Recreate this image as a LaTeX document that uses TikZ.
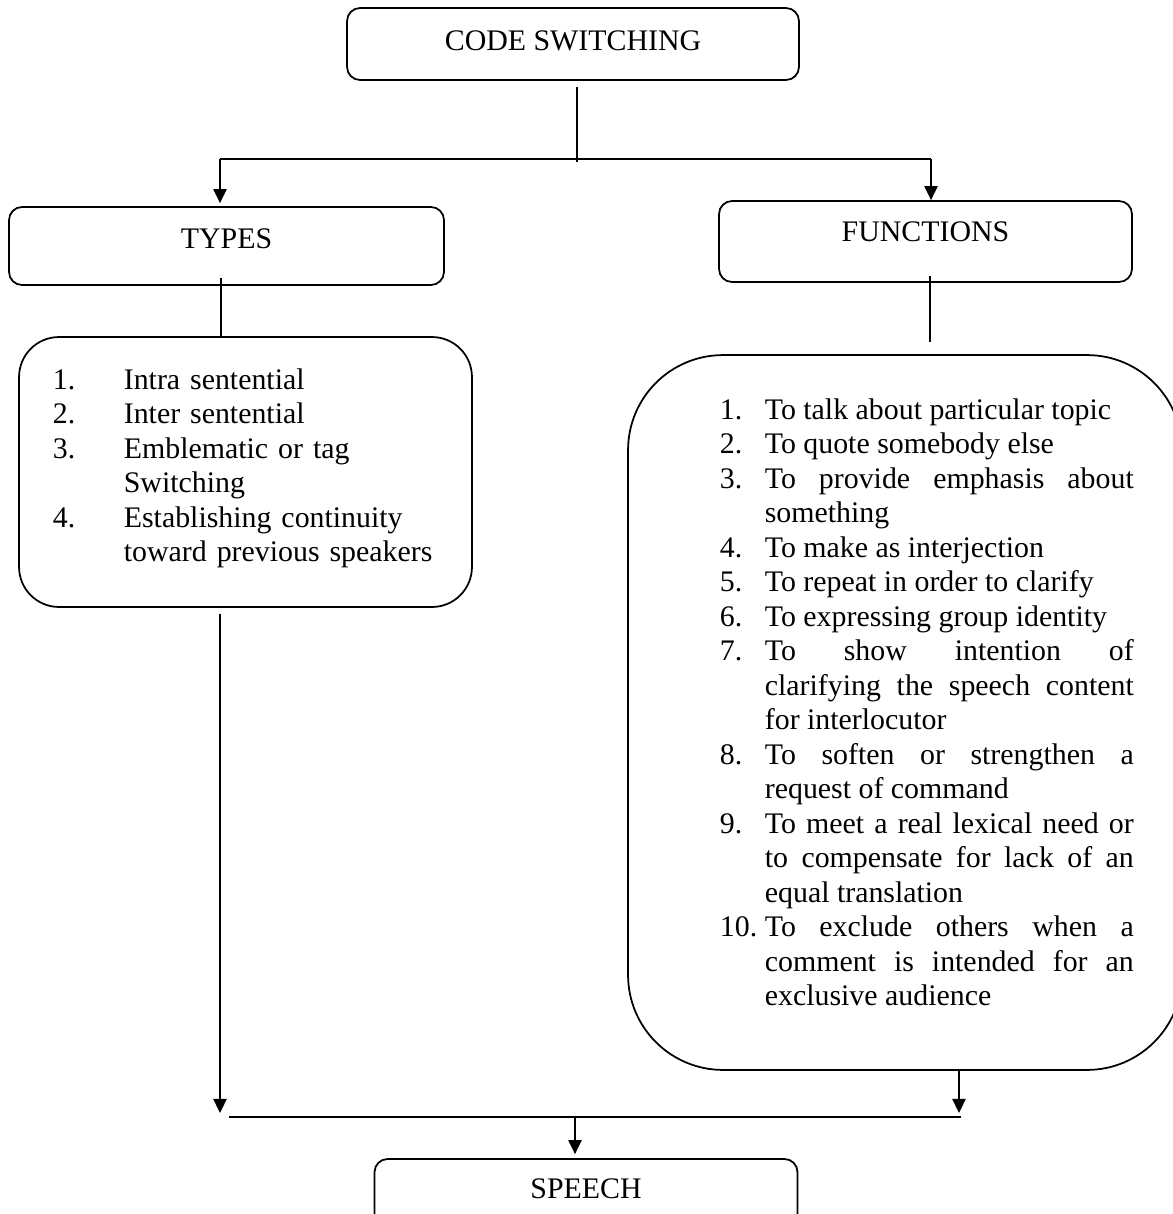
\documentclass[tikz,border=0pt]{standalone}
\usepackage{fontspec}
\setmainfont{Liberation Serif}
\usetikzlibrary{arrows.meta}
\newcommand\myitem[3]{\par\noindent\hangindent=#1\hangafter=1\makebox[#1][l]{#2}#3\par}
\begin{document}
\begin{tikzpicture}[x=0.02cm, y=-0.02cm, line width=1pt,
  font=\fontsize{17}{19.63}\selectfont,
  titlebox/.style={draw, rounded corners=0.26cm, inner sep=0pt, text height=11.3pt},
  listbox/.style={draw, inner sep=0pt},
  listtext/.style={inner sep=0pt, anchor=base west},
  arr/.style={-{Triangle[length=8pt,width=7.5pt]}}]
\useasboundingbox (0,0) rectangle (1173,1214);

% title boxes
\node[titlebox, minimum width=9.04cm, minimum height=1.44cm, text depth=3.5pt] (cs) at (573,44) {CODE SWITCHING};
\node[titlebox, minimum width=8.7cm, minimum height=1.56cm, text depth=7.9pt] (types) at (226.5,246) {TYPES};
\node[titlebox, minimum width=8.26cm, minimum height=1.62cm, text depth=10.8pt] (func) at (925.5,241.5) {FUNCTIONS};
\node[titlebox, minimum width=8.46cm, minimum height=1.56cm, text depth=10.2pt] (speech) at (586,1198) {SPEECH};

% list boxes
\node[listbox, rounded corners=0.8cm, minimum width=9.06cm, minimum height=5.4cm] (tlist) at (245.5,472) {};
\node[listbox, rounded corners=1.9cm, minimum width=11.08cm, minimum height=14.3cm] (flist) at (905,712.5) {};

% list texts
\node[listtext, text width=8.4cm, align=left] (ttext) at (52,355) {%
\hyphenpenalty=10000\exhyphenpenalty=10000%
\myitem{1.42cm}{1.}{Intra sentential}%
\myitem{1.42cm}{2.}{Inter sentential}%
\myitem{1.42cm}{3.}{Emblematic or tag\newline Switching}%
\myitem{1.42cm}{4.}{Establishing continuity\newline toward previous speakers}};

\node[listtext, text width=8.28cm, align=justify] (ftext) at (719,385) {%
\hyphenpenalty=10000\exhyphenpenalty=10000\tolerance=10000%
\myitem{0.9cm}{1.}{To talk about particular topic}%
\myitem{0.9cm}{2.}{To quote somebody else}%
\myitem{0.9cm}{3.}{To provide emphasis about\linebreak something}%
\myitem{0.9cm}{4.}{To make as interjection}%
\myitem{0.9cm}{5.}{To repeat in order to clarify}%
\myitem{0.9cm}{6.}{To expressing group identity}%
\myitem{0.9cm}{7.}{To show intention of\linebreak clarifying the speech content\linebreak for interlocutor}%
\myitem{0.9cm}{8.}{To soften or strengthen a\linebreak request of command}%
\myitem{0.9cm}{9.}{To meet a real lexical need or\linebreak to compensate for lack of an\linebreak equal translation}%
\myitem{0.9cm}{10.}{To exclude others when a\linebreak comment is intended for an\linebreak exclusive audience}};

% coordinates
\coordinate (j1) at (577,159);
\coordinate (jl) at (220,159);
\coordinate (jr) at (931,159);
\coordinate (lx) at (221,0);
\coordinate (rx) at (930,0);
\coordinate (lx2) at (220,0);
\coordinate (rx2) at (959,0);
\coordinate (bl) at (220,1113);
\coordinate (br) at (959,1113);
\coordinate (hl) at (229,1117);
\coordinate (hr) at (961,1117);
\coordinate (hm) at (575,1117);

% connectors
\draw[shorten <=0.12cm, shorten >=-0.06cm] (cs.south -| j1) -- (j1);
\draw (jl) -- (jr);
\draw[arr, shorten >=0.06cm] (jl) -- (types.north -| jl);
\draw[arr] (jr) -- (func.north -| jr);
\draw[shorten <=-0.16cm] (types.south -| lx) -- (tlist.north -| lx);
\draw[shorten <=-0.14cm, shorten >=0.24cm] (func.south -| rx) -- (flist.north -| rx);
\draw[arr, shorten <=0.12cm] (tlist.south -| lx2) -- (bl);
\draw[arr] (flist.south -| rx2) -- (br);
\draw (hl) -- (hr);
\draw[arr, shorten >=0.08cm] (hm) -- (speech.north -| hm);
\end{tikzpicture}
\end{document}
